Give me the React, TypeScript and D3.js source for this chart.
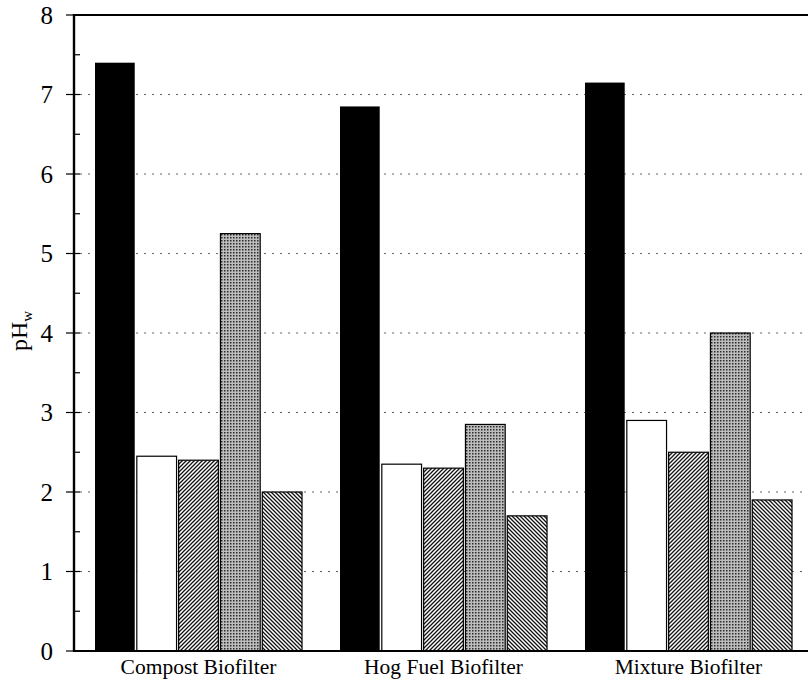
import React from "react";
import * as d3 from "d3";

const categories = ["Compost Biofilter", "Hog Fuel Biofilter", "Mixture Biofilter"];
const seriesKeys = ["s1", "s2", "s3", "s4", "s5"];
const s1 = [7.4, 6.85, 7.15];
const s2 = [2.45, 2.35, 2.9];
const s3 = [2.4, 2.3, 2.5];
const s4 = [5.25, 2.85, 4.0];
const s5 = [2.0, 1.7, 1.9];
const yTicks = [0, 1, 2, 3, 4, 5, 6, 7, 8];
const yMinor = [0.5, 1.5, 2.5, 3.5, 4.5, 5.5, 6.5, 7.5];

const seriesValues = [s1, s2, s3, s4, s5];
const fills = ["#000", "#fff", "url(#hatchFwd)", "url(#stipple)", "url(#hatchBack)"];

export default function App() {
  const W = 808;
  const H = 682;
  const left = 74;
  const top = 15;
  const bottom = 651;
  const right = 813;

  const y = d3.scaleLinear().domain([0, 8]).range([bottom, top]);
  const x0 = d3
    .scaleBand<string>()
    .domain(categories)
    .range([left, right])
    .paddingInner(0.155)
    .paddingOuter(0.0857);
  const x1 = d3
    .scaleBand<string>()
    .domain(seriesKeys)
    .range([0, x0.bandwidth()])
    .paddingInner(0.05)
    .paddingOuter(0);

  const font = "'Liberation Serif', 'Times New Roman', serif";

  return (
    <svg
      width={W}
      height={H}
      style={{ position: "absolute", left: 0, top: 0, background: "#fff" }}
      fontFamily={font}
    >
      <defs>
        <pattern id="hatchFwd" width="4" height="4" patternUnits="userSpaceOnUse">
          <rect width="4" height="4" fill="#fff" />
          <path d="M-1,1 l2,-2 M0,4 l4,-4 M3,5 l2,-2" stroke="#111" strokeWidth="1.3" />
        </pattern>
        <pattern id="hatchBack" width="4" height="4" patternUnits="userSpaceOnUse">
          <rect width="4" height="4" fill="#fff" />
          <path d="M-1,3 l2,2 M0,0 l4,4 M3,-1 l2,2" stroke="#111" strokeWidth="1.3" />
        </pattern>
        <pattern id="stipple" width="3" height="3" patternUnits="userSpaceOnUse">
          <rect width="3" height="3" fill="#bdbdbd" />
          <rect x="0" y="0" width="1.5" height="1.5" fill="#2a2a2a" />
        </pattern>
      </defs>

      {/* dotted gridlines */}
      {yTicks
        .filter((t) => t > 0 && t < 8)
        .map((t) => (
          <line
            key={`g${t}`}
            x1={left + 6}
            x2={W}
            y1={y(t)}
            y2={y(t)}
            stroke="#666"
            strokeWidth={1}
            strokeDasharray="2,6"
          />
        ))}

      {/* bars */}
      {categories.map((c, ci) => (
        <g key={c} transform={`translate(${x0(c)},0)`}>
          {seriesKeys.map((k, si) => {
            const v = seriesValues[si][ci];
            return (
              <rect
                key={k}
                x={x1(k)}
                y={y(v)}
                width={x1.bandwidth()}
                height={bottom - y(v)}
                fill={fills[si]}
                stroke="#000"
                strokeWidth={si === 0 ? 0 : 1.2}
              />
            );
          })}
        </g>
      ))}

      {/* frame */}
      <line x1={left} x2={W} y1={top} y2={top} stroke="#000" strokeWidth={2.2} />
      <line x1={left} x2={W} y1={bottom} y2={bottom} stroke="#000" strokeWidth={2.2} />
      <line x1={left} x2={left} y1={top - 1} y2={bottom + 1} stroke="#000" strokeWidth={2.4} />

      {/* ticks */}
      {yTicks.map((t) => (
        <g key={`t${t}`}>
          <line x1={left - 8} x2={left + 6} y1={y(t)} y2={y(t)} stroke="#000" strokeWidth={1.2} />
          <text x={53} y={y(t)} dy="0.35em" textAnchor="end" fontSize={25} fill="#000">
            {t}
          </text>
        </g>
      ))}
      {yMinor.map((t) => (
        <line key={`m${t}`} x1={left} x2={left + 6} y1={y(t)} y2={y(t)} stroke="#000" strokeWidth={1.2} />
      ))}

      {/* category labels */}
      {categories.map((c) => (
        <text
          key={`l${c}`}
          x={(x0(c) ?? 0) + x0.bandwidth() / 2}
          y={674}
          textAnchor="middle"
          fontSize={21.5}
          fill="#000"
        >
          {c}
        </text>
      ))}

      {/* y axis title */}
      <text transform={`translate(27,331) rotate(-90)`} textAnchor="middle" fontSize={24} fill="#000">
        pH
        <tspan fontSize={15} dy={5}>
          w
        </tspan>
      </text>
    </svg>
  );
}
